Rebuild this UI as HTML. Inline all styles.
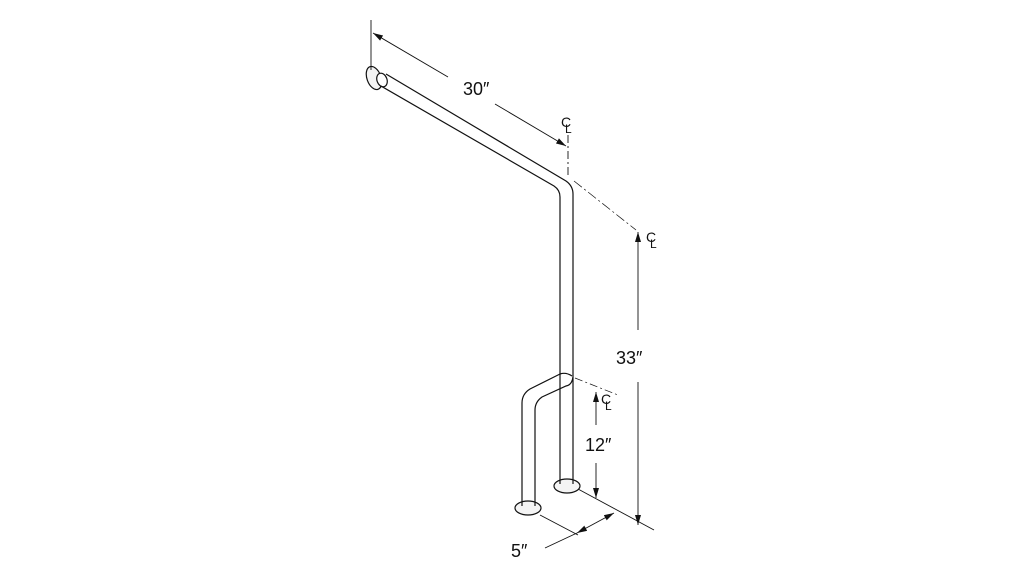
<!DOCTYPE html>
<html><head><style>body{margin:0;background:#fff}svg{display:block}text{font-family:"Liberation Sans",sans-serif;fill:#111}</style></head><body>
<svg width="1025" height="579" viewBox="0 0 1025 579">
<defs><marker id="a" markerWidth="10" markerHeight="6" refX="10" refY="3" orient="auto-start-reverse" markerUnits="userSpaceOnUse"><path d="M0,0L10,3L0,6z" fill="#111"/></marker>
<g id="cl"><text x="0" y="0" font-size="14">C</text><text x="4" y="6" font-size="12">L</text></g></defs>
<g stroke="#111" fill="none" stroke-width="1.2">
<ellipse cx="567" cy="486" rx="13" ry="7" fill="#f4f4f4"/>
<ellipse cx="528" cy="508" rx="13" ry="7" fill="#f4f4f4"/>
<ellipse cx="374" cy="78" rx="7" ry="12" transform="rotate(-20 374 78)" fill="#f4f4f4"/>
<ellipse cx="382" cy="80" rx="5" ry="7" transform="rotate(-20 382 80)" fill="#fff"/>
<path d="M386 74 L566 181 Q573 186 573 194 L573 484"/>
<path d="M381 86 L554 186 Q560 190 560 197 L560 484"/>
<path d="M560 374 L530 389 Q522 394 522 403 L522 506"/>
<path d="M573 377 Q572 385 566 386 L542 397 Q535 402 535 410 L535 506"/>
<path d="M560 374 Q566 372 572 376"/>
<g stroke-width="0.9">
<line x1="371" y1="20" x2="371" y2="70"/>
<line x1="373" y1="33" x2="448" y2="77" marker-start="url(#a)"/>
<line x1="495" y1="104" x2="566" y2="146" marker-end="url(#a)"/>
<line x1="568" y1="135" x2="568" y2="178" stroke-dasharray="8,3,2,3"/>
<line x1="574" y1="181" x2="636" y2="230" stroke-dasharray="10,3,2,3" stroke-width="0.7"/>
<line x1="638" y1="232" x2="638" y2="330" marker-start="url(#a)"/>
<line x1="638" y1="382" x2="638" y2="525" marker-end="url(#a)"/>
<line x1="578" y1="489" x2="654" y2="530"/>
<line x1="575" y1="378" x2="618" y2="395" stroke-dasharray="8,3,2,3" stroke-width="0.7"/>
<line x1="596" y1="392" x2="596" y2="425" marker-start="url(#a)"/>
<line x1="596" y1="463" x2="596" y2="498" marker-end="url(#a)"/>
<line x1="540" y1="515" x2="578" y2="535"/>
<line x1="577" y1="533" x2="614" y2="513" marker-start="url(#a)" marker-end="url(#a)"/>
<line x1="577" y1="533" x2="545" y2="548"/>
</g>
</g>
<use href="#cl" x="561" y="127"/>
<use href="#cl" x="646" y="242"/>
<use href="#cl" x="601" y="404"/>
<text x="463" y="95" font-size="18">30″</text>
<text x="616" y="364" font-size="18">33″</text>
<text x="585" y="451" font-size="18">12″</text>
<text x="511" y="557" font-size="18">5″</text>
</svg>
</body></html>
